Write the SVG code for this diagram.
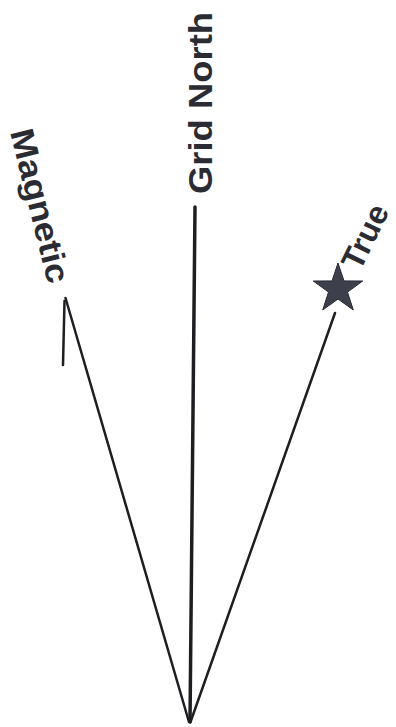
<svg xmlns="http://www.w3.org/2000/svg" width="396" height="727" viewBox="0 0 396 727">
<style>
.lbl{font-family:"Liberation Sans",Arial,sans-serif;font-weight:bold;font-size:33px;fill:#2b2c33}
.ln{stroke:#1e1e22;fill:none;stroke-linecap:round}
</style>
<rect width="396" height="727" fill="#ffffff"/>
<g id="connectors">
<line class="ln" x1="195" y1="207" x2="190" y2="722" stroke-width="3.5"/>
<line class="ln" x1="65.5" y1="298" x2="189" y2="722" stroke-width="2.5"/>
<line class="ln" x1="335" y1="313" x2="190.5" y2="722" stroke-width="2.5"/>
<line class="ln" x1="64.5" y1="301" x2="63" y2="365" stroke-width="2.5"/>
</g>
<g id="grid-north">
<text class="lbl" transform="translate(212,194) rotate(-90)" textLength="182" lengthAdjust="spacingAndGlyphs">Grid North</text>
</g>
<g id="magnetic">
<text class="lbl" transform="translate(10,132) rotate(76)" textLength="158" lengthAdjust="spacingAndGlyphs">Magnetic</text>
</g>
<g id="true">
<polygon points="338,263 344,280.9 362.7,281 347.5,292.1 353.3,310 338,299 322.7,310 328.5,292.1 313.3,281 332,280.9" fill="#3d3f4b" stroke="#2b2c33" stroke-width="1"/>
<text class="lbl" transform="translate(360,272) rotate(-64)" textLength="68" lengthAdjust="spacingAndGlyphs" style="font-size:32px">True</text>
</g>
</svg>
